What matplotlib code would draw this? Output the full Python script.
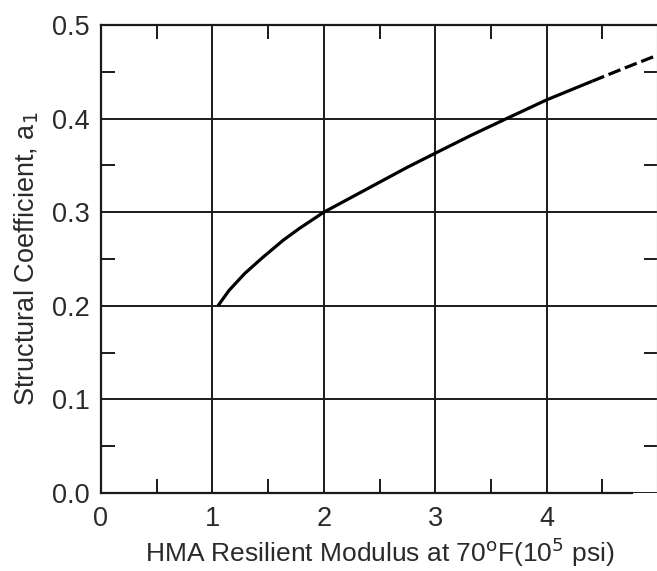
import matplotlib
matplotlib.use("Agg")
import matplotlib.pyplot as plt
from matplotlib.ticker import MultipleLocator

plt.rcParams['font.family'] = ['Liberation Sans', 'DejaVu Sans']

# Solid part of the curve
x_solid = [1.05, 1.15, 1.29, 1.45, 1.635, 1.785, 2.0, 2.25, 2.5, 2.75,
           3.0, 3.32, 3.64, 4.0, 4.41]
y_solid = [0.200, 0.2165, 0.2345, 0.2515, 0.270, 0.283, 0.300, 0.316, 0.332, 0.348,
           0.363, 0.382, 0.400, 0.420, 0.440]
# Dashed extrapolation
x_dash = [4.41, 4.7, 5.0]
y_dash = [0.440, 0.454, 0.468]

x_ticks = [0, 1, 2, 3, 4]
y_ticks = [0.0, 0.1, 0.2, 0.3, 0.4, 0.5]
x_tick_labels = ['0', '1', '2', '3', '4']
y_tick_labels = ['0.0', '0.1', '0.2', '0.3', '0.4', '0.5']

fig = plt.figure(figsize=(6.57, 5.71), dpi=100)
ax = fig.add_axes([101/657, 1-493/571, 557/657, 468/571])

ax.set_xlim(0, 5)
ax.set_ylim(0, 0.5)

gc = '#1a1a1a'
tc = '#2a2a2a'
ax.set_xticks(x_ticks)
ax.set_xticklabels(x_tick_labels)
ax.set_yticks(y_ticks)
ax.set_yticklabels(y_tick_labels)
ax.xaxis.set_minor_locator(MultipleLocator(0.5))
ax.yaxis.set_minor_locator(MultipleLocator(0.05))

ax.grid(True, which='major', color=gc, linewidth=1.4)
ax.tick_params(which='major', length=0, labelsize=19.5, colors=tc)
ax.tick_params(axis='x', which='major', pad=9)
ax.tick_params(axis='y', which='major', pad=8)
ax.tick_params(which='minor', direction='in', length=10, width=1.4,
               top=True, right=True, bottom=True, left=True, color=gc)

for s in ax.spines.values():
    s.set_color(gc)
    s.set_linewidth(1.6)
ax.spines['right'].set_color('#bbbbbb')
ax.spines['bottom'].set_bounds(0, 4.77)

ax.plot(x_solid, y_solid, color='black', linewidth=2.3, solid_capstyle='butt',
        solid_joinstyle='round', zorder=5)
ax.plot(x_dash, y_dash, color='black', linewidth=2.3, linestyle=(0, (4, 1.5)), zorder=5)

ax.set_xlabel('HMA Resilient Modulus at 70$^{\\mathrm{o}}$F(10$^{5}$ psi)', fontsize=19,
              color=tc, labelpad=3)
ax.set_ylabel('Structural Coefficient, a$_{1}$', fontsize=19.5, color=tc, labelpad=8)

fig.savefig('out.png', dpi=100)
